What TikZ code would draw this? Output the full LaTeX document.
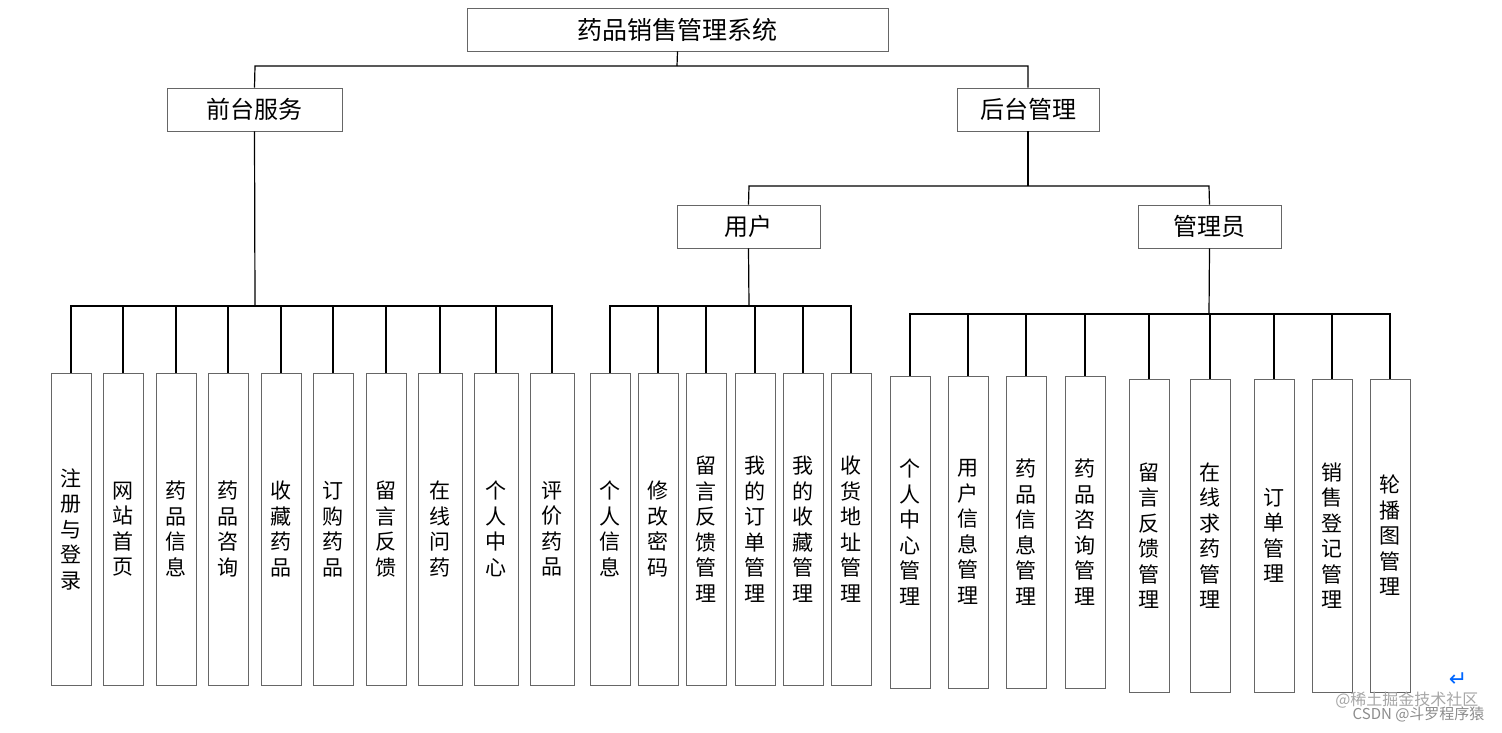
\documentclass[tikz,border=0pt]{standalone}
\usepackage{fontspec}
\setmainfont{Noto Sans CJK SC}
\newfontfamily\djv{DejaVu Sans}
\begin{document}
\begin{tikzpicture}[x=1pt,y=-1pt,
  bx/.style={draw=black!60,line width=0.8pt,inner sep=0pt},
  ln/.style={draw=black,line width=1.2pt},
  lf/.style={font=\fontsize{21}{25.5}\selectfont,align=center}]
\useasboundingbox (0,0) rectangle (1502,732);
\newcommand{\leaf}[6]{% name, x1, x2, y1, y2, text
  \node[bx,minimum width={#3-#2},minimum height={#5-#4}] (#1) at ({(#2+#3)/2},{(#4+#5)/2}) {};
  \node[lf] at (#1.center) {#6};}
% top boxes
\node[bx,minimum width=421,minimum height=43,font=\fontsize{25}{30}\selectfont] (root) at (677.5,29.5) {药品销售管理系统};
\node[bx,minimum width=175,minimum height=43,font=\fontsize{24}{28}\selectfont] (qt) at (254.5,109.5) {前台服务};
\node[bx,minimum width=142,minimum height=43,font=\fontsize{24}{28}\selectfont] (ht) at (1028,109.5) {后台管理};
\node[bx,minimum width=143,minimum height=43,font=\fontsize{24}{28}\selectfont] (yh) at (748.5,226.5) {用户};
\node[bx,minimum width=143,minimum height=43,font=\fontsize{24}{28}\selectfont] (gly) at (1209.5,226.5) {管理员};
\coordinate (r1) at (255,66); \coordinate (r2) at (1028,66);
\draw[ln] (root.south) -- (677,66);
\draw[ln] (qt.north) -- (r1) -- (r2) -- (ht.north);
\coordinate (h1) at (749,186); \coordinate (h2) at (1209,186);
\draw[ln] (ht.south) -- (1028,186);
\draw[ln] (yh.north) -- (h1) -- (h2) -- (gly.north);
% front leaves
\leaf{a1}{51}{91}{373}{685}{注\\册\\与\\登\\录}
\leaf{a2}{103}{143}{373}{685}{网\\站\\首\\页}
\leaf{a3}{156}{196}{373}{685}{药\\品\\信\\息}
\leaf{a4}{208}{248}{373}{685}{药\\品\\咨\\询}
\leaf{a5}{261}{301}{373}{685}{收\\藏\\药\\品}
\leaf{a6}{313}{353}{373}{685}{订\\购\\药\\品}
\leaf{a7}{366}{406}{373}{685}{留\\言\\反\\馈}
\leaf{a8}{418}{462}{373}{685}{在\\线\\问\\药}
\leaf{a9}{474}{518}{373}{685}{个\\人\\中\\心}
\leaf{a10}{530}{574}{373}{685}{评\\价\\药\\品}
\draw[ln] (qt.south) -- (255,306);
\draw[ln] (a1.north) |- (255,306) -| (a10.north);
\foreach \n in {2,...,9} \draw[ln] (a\n.north) -- (a\n.north |- 0,306);
% user leaves
\leaf{b1}{590}{630}{373}{685}{个\\人\\信\\息}
\leaf{b2}{638}{678}{373}{685}{修\\改\\密\\码}
\leaf{b3}{686}{726}{373}{685}{留\\言\\反\\馈\\管\\理}
\leaf{b4}{735}{775}{373}{685}{我\\的\\订\\单\\管\\理}
\leaf{b5}{783}{823}{373}{685}{我\\的\\收\\藏\\管\\理}
\leaf{b6}{831}{871}{373}{685}{收\\货\\地\\址\\管\\理}
\draw[ln] (yh.south) -- (749,306);
\draw[ln] (b1.north) |- (749,306) -| (b6.north);
\foreach \n in {2,...,5} \draw[ln] (b\n.north) -- (b\n.north |- 0,306);
% admin leaves
\leaf{c1}{890}{930}{376}{688}{个\\人\\中\\心\\管\\理}
\leaf{c2}{948}{988}{376}{688}{用\\户\\信\\息\\管\\理}
\leaf{c3}{1006}{1046}{376}{688}{药\\品\\信\\息\\管\\理}
\leaf{c4}{1065}{1105}{376}{688}{药\\品\\咨\\询\\管\\理}
\leaf{c5}{1129}{1169}{379}{692}{留\\言\\反\\馈\\管\\理}
\leaf{c6}{1190}{1230}{379}{692}{在\\线\\求\\药\\管\\理}
\leaf{c7}{1254}{1294}{379}{692}{订\\单\\管\\理}
\leaf{c8}{1312}{1352}{379}{692}{销\\售\\登\\记\\管\\理}
\leaf{c9}{1370}{1410}{379}{692}{轮\\播\\图\\管\\理}
\draw[ln] (gly.south) -- (1209,314);
\draw[ln] (c1.north) |- (1209,314) -| (c9.north);
\foreach \n in {2,...,8} \draw[ln] (c\n.north) -- (c\n.north |- 0,314);
% watermark
\node[font=\fontsize{16}{18}\selectfont,text=black!35,anchor=east] (w1) at (1482,700) {@稀土掘金技术社区};
\node[font=\fontsize{15}{18}\selectfont,text=black!45,anchor=east] (w2) at (1488,714) {CSDN @斗罗程序猿};
\node[font=\djv\fontsize{22}{24}\selectfont,text=blue!60!cyan] (w3) at (1458,680) {↵};
\end{tikzpicture}
\end{document}
